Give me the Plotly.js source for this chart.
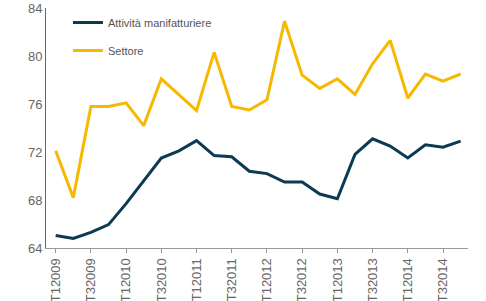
<!DOCTYPE html>
<html><head><meta charset="utf-8">
<script src="https://cdn.plot.ly/plotly-3.0.1.min.js"></script>
<style>html,body{margin:0;padding:0;background:#fff}</style>
</head><body>
<div id="chart" style="width:486px;height:301px"></div>
<script>
const quarters = ["T12009","T22009","T32009","T42009","T12010","T22010","T32010","T42010",
  "T12011","T22011","T32011","T42011","T12012","T22012","T32012","T42012",
  "T12013","T22013","T32013","T42013","T12014","T22014","T32014","T42014"];
const manifatturiere = [65.05,64.8,65.3,65.95,67.7,69.6,71.5,72.1,72.95,71.7,71.6,70.4,
  70.2,69.5,69.5,68.5,68.1,71.8,73.1,72.5,71.5,72.6,72.4,72.9];
const settore = [72.1,68.2,75.8,75.8,76.1,74.2,78.1,76.8,75.45,80.3,75.8,75.5,
  76.35,82.9,78.4,77.3,78.1,76.8,79.35,81.3,76.5,78.5,77.9,78.5];
const tickQuarters = quarters.filter((q,i)=>i%2===0);
const yTicks = [64,68,72,76,80,84];

const traces = [
  {x: quarters, y: manifatturiere, name: "Attività manifatturiere", type: "scatter", mode: "lines",
   line: {color: "#0b3a52", width: 3}, legendgroup: "a"},
  {x: quarters, y: settore, name: "Settore", type: "scatter", mode: "lines",
   line: {color: "#f7b800", width: 3}, legendgroup: "b"}
];
const layout = {
  width: 486, height: 301,
  margin: {l: 46, r: 18, t: 8, b: 53},
  paper_bgcolor: "#fff", plot_bgcolor: "#fff",
  font: {family: "Liberation Sans, Arial, sans-serif", color: "#666"},
  showlegend: true,
  legend: {x: 0.052, y: 1.0, xanchor: "left", yanchor: "top", bgcolor: "rgba(0,0,0,0)",
    font: {size: 11, color: "#555"}, tracegroupgap: 9},
  xaxis: {type: "category", range: [-0.55, 23.42], tickmode: "array",
    tickvals: tickQuarters, ticktext: tickQuarters, tickangle: -90,
    showline: true, linecolor: "#999", linewidth: 1, ticks: "outside", ticklen: 4,
    tickcolor: "#999", showgrid: false, zeroline: false,
    tickfont: {size: 13, color: "#666"}},
  yaxis: {range: [64, 84], tickvals: yTicks, showline: true, linecolor: "#666", linewidth: 1,
    ticks: "", showgrid: false, zeroline: false, tickfont: {size: 13, color: "#666"}}
};
Plotly.newPlot("chart", traces, layout, {displayModeBar: false, staticPlot: true});
</script>
</body></html>
